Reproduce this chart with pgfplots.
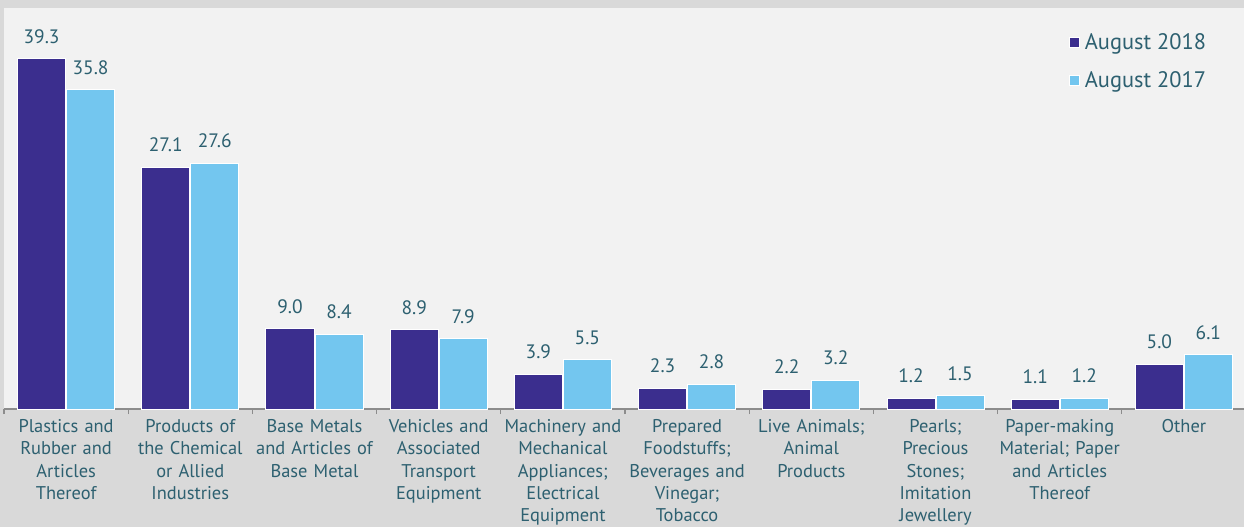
\documentclass[border=0pt]{standalone}
\usepackage{pgfplots}
\pgfplotsset{compat=1.18}
\usepackage{fontspec}
\setmainfont{PT Sans}

\definecolor{outerbg}{HTML}{D9D9D9}
\definecolor{innerbg}{HTML}{F2F2F2}
\definecolor{darkbar}{HTML}{3B2E8E}
\definecolor{lightbar}{HTML}{73C6EF}
\definecolor{txt}{HTML}{2D6070}
\definecolor{axisgray}{HTML}{8C8C8C}

\begin{document}
\begin{tikzpicture}
% outer grey page
\fill[outerbg] (-4bp,-118bp) rectangle (1240bp,409bp);
\begin{axis}[
  scale only axis,
  width=1242bp, height=401bp,
  ybar, bar width=48bp,
  xmin=-0.5, xmax=9.5,
  ymin=0, ymax=45,
  axis background/.style={fill=innerbg},
  axis x line*=bottom,
  axis y line=none,
  x axis line style={draw=axisgray, line width=1.5bp, -},
  xtick={0,...,9},
  major tick length=0pt,
  minor xtick={-0.5,0.5,...,9.5},
  minor tick length=5bp,
  tick align=outside,
  minor tick style={draw=axisgray, line width=1.2bp},
  xticklabels={
    {Plastics and\\Rubber and\\Articles\\Thereof},
    {Products of\\the Chemical\\or Allied\\Industries},
    {Base Metals\\and Articles of\\Base Metal},
    {Vehicles and\\Associated\\Transport\\Equipment},
    {Machinery and\\Mechanical\\Appliances;\\Electrical\\Equipment},
    {Prepared\\Foodstuffs;\\Beverages and\\Vinegar;\\Tobacco},
    {Live Animals;\\Animal\\Products},
    {Pearls;\\Precious\\Stones;\\Imitation\\Jewellery},
    {Paper-making\\Material; Paper\\and Articles\\Thereof},
    {Other}},
  xticklabel style={font=\fontsize{18.5}{22.3}\selectfont, text=txt,
    text width=124bp, align=center, anchor=north, yshift=-7bp},
  /pgf/number format/assume math mode=true,
  /pgf/number format/fixed,
  /pgf/number format/precision=1,
  /pgf/number format/fixed zerofill,
  nodes near coords,
  nodes near coords style={font=\fontsize{19.5}{21}\selectfont, text=txt},
  every node near coord/.append style={yshift=11.5bp},
  legend style={at={(rel axis cs:0.972,0.947)}, anchor=north east,
    draw=none, fill=none, font=\fontsize{22.5}{24}\selectfont, text=txt,
    row sep=17bp, column sep=3bp, cells={anchor=west}},
  legend image code/.code={\draw[#1, line width=0.8bp] (0bp,-5bp) rectangle (10bp,5bp);},
]
\addplot[fill=darkbar, draw=white, line width=1bp, bar shift=-24.5bp] coordinates {
  (0,39.3) (1,27.1) (2,9.0) (3,8.9) (4,3.9) (5,2.3) (6,2.2) (7,1.2) (8,1.1) (9,5.0)};
\addplot[fill=lightbar, draw=white, line width=1bp, bar shift=24.5bp] coordinates {
  (0,35.8) (1,27.6) (2,8.4) (3,7.9) (4,5.5) (5,2.8) (6,3.2) (7,1.5) (8,1.2) (9,6.1)};
\legend{August 2018, August 2017}
\end{axis}
\pgfresetboundingbox
\path[use as bounding box] (-4bp,-118bp) rectangle (1240bp,409bp);
\end{tikzpicture}
\end{document}
